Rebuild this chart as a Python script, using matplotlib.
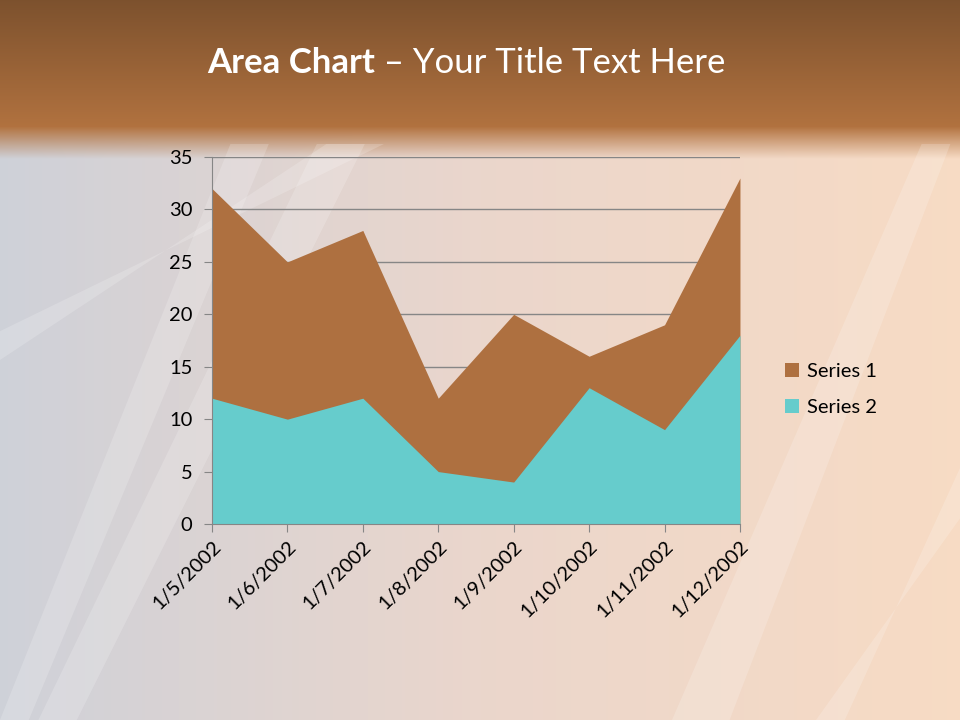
import numpy as np
import matplotlib.pyplot as plt
from matplotlib.patches import Polygon

# chart data
dates = ['1/5/2002', '1/6/2002', '1/7/2002', '1/8/2002',
         '1/9/2002', '1/10/2002', '1/11/2002', '1/12/2002']
series1 = [32, 25, 28, 12, 20, 16, 19, 33]
series2 = [12, 10, 12, 5, 4, 13, 9, 18]
yticks = [0, 5, 10, 15, 20, 25, 30, 35]

brown = '#ae7040'
cyan = '#66cccc'
grid_col = '#868686'
font = ['Lato', 'DejaVu Sans']

fig = plt.figure(figsize=(9.6, 7.2), dpi=100)

# slide background: brown header band fading into a pastel wash
bg = fig.add_axes([0, 0, 1, 1])
H, W = 720, 960
yy, xx = np.mgrid[0:H, 0:W] / np.array([H, W])[:, None, None]
left = np.array([0.81, 0.82, 0.85])
mid = np.array([0.92, 0.84, 0.80])
right = np.array([0.97, 0.86, 0.77])
t = xx[..., None]
img = np.where(t < 0.5, left + (mid - left) * (t / 0.5),
               mid + (right - mid) * ((t - 0.5) / 0.5))
top = np.array([0.49, 0.32, 0.18])
bot = np.array([0.70, 0.45, 0.25])
band_t = np.clip(yy / 0.18, 0, 1)[..., None]
band = top + (bot - top) * band_t
fade = np.clip((yy - 0.175) / 0.045, 0, 1)[..., None]
img = band * (1 - fade) + img * fade
bg.imshow(np.clip(img, 0, 1), extent=[0, 1, 0, 1], aspect='auto', zorder=0)

# light swooshes
sw = [
    [(0.0, 0.0), (0.03, 0.0), (0.28, 0.80), (0.24, 0.80)],
    [(0.04, 0.0), (0.08, 0.0), (0.38, 0.80), (0.33, 0.80)],
    [(0.0, 0.50), (0.0, 0.54), (0.40, 0.80), (0.34, 0.80)],
    [(0.70, 0.0), (0.76, 0.0), (0.99, 0.80), (0.96, 0.80)],
    [(0.85, 0.0), (0.88, 0.0), (1.0, 0.35), (1.0, 0.28)],
]
for p in sw:
    bg.add_patch(Polygon(p, closed=True, facecolor='white', alpha=0.18,
                         edgecolor='none', zorder=1))
bg.set_xlim(0, 1)
bg.set_ylim(0, 1)
bg.axis('off')

# title: bold part, then regular part placed right after it
t1 = fig.text(0.216, 0.913, 'Area Chart', color='white', fontsize=25,
              fontweight='bold', family=font, va='center', ha='left')
renderer = fig.canvas.get_renderer()
bb = t1.get_window_extent(renderer)
x2 = bb.x1 / fig.bbox.width
fig.text(x2, 0.913, ' \u2013 Your Title Text Here', color='white',
         fontsize=25, family=font, va='center', ha='left')

# area chart
ax = fig.add_axes([0.2208, 0.2722, 0.55, 0.5097])
ax.patch.set_alpha(0)
x = np.arange(len(dates))
ax.fill_between(x, 0, series1, color=brown, lw=0, label='Series 1', zorder=2)
ax.fill_between(x, 0, series2, color=cyan, lw=0, label='Series 2', zorder=3)

ax.set_xlim(0, len(dates) - 1)
ax.set_ylim(0, 35)
ax.set_yticks(yticks)
ax.set_xticks(x)
ax.set_xticklabels(dates, rotation=45, ha='right', va='top',
                   rotation_mode='anchor')
for lab in ax.get_xticklabels() + ax.get_yticklabels():
    lab.set_family(font)
    lab.set_fontsize(14.5)
    lab.set_color('black')
ax.yaxis.grid(True, color=grid_col, lw=1, zorder=1)
ax.set_axisbelow(True)
for s in ['top', 'right']:
    ax.spines[s].set_visible(False)
for s in ['left', 'bottom']:
    ax.spines[s].set_color(grid_col)
    ax.spines[s].set_zorder(4)
ax.tick_params(axis='x', length=6, color=grid_col, pad=4)
ax.tick_params(axis='y', length=6, color=grid_col, pad=8)

leg = fig.legend(loc='center left', bbox_to_anchor=(0.799, 0.459),
                 frameon=False, prop={'family': font, 'size': 14.5},
                 handlelength=0.7, handleheight=0.7, handletextpad=0.4,
                 labelspacing=0.95)

fig.savefig('out.png', dpi=100)
